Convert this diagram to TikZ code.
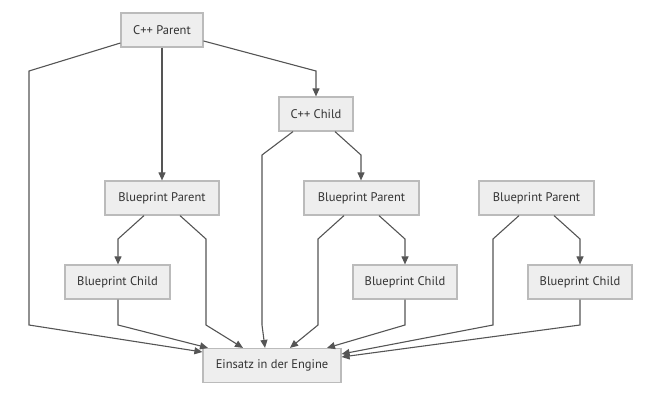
\documentclass[tikz,border=0pt]{standalone}
\usepackage{fontspec}
\setmainfont{PT Sans}
\usetikzlibrary{arrows.meta}
\definecolor{boxfill}{HTML}{EEEEEE}
\definecolor{boxline}{HTML}{BBBBBB}
\definecolor{edge}{HTML}{555555}
\definecolor{txt}{HTML}{333333}
\begin{document}
\begin{tikzpicture}[x=1pt,y=-1pt,
  box/.style={draw=boxline,fill=boxfill,line width=1.2pt,text=txt,inner sep=0pt,
    minimum height=34pt,font=\fontsize{12.5}{14}\selectfont},
  link/.style={draw=edge,line width=1.1pt,-{Triangle[length=8pt,width=7pt]},color=edge}]
\useasboundingbox (0,0) rectangle (656,402);
\node[box,minimum width=82pt] (cp) at (162,30) {C++ Parent};
\node[box,minimum width=74pt] (cc) at (316,114) {C++ Child};
\node[box,minimum width=114pt] (bp1) at (162,198) {Blueprint Parent};
\node[box,minimum width=115pt] (bp2) at (361.5,198) {Blueprint Parent};
\node[box,minimum width=115pt] (bp3) at (536.5,198) {Blueprint Parent};
\node[box,minimum width=105pt] (bc1) at (117.5,282) {Blueprint Child};
\node[box,minimum width=104pt] (bc2) at (405,282) {Blueprint Child};
\node[box,minimum width=104pt] (bc3) at (580,282) {Blueprint Child};
\node[box,minimum width=138pt] (en) at (272,365.5) {Einsatz in der Engine};
% C++ Parent
\draw[link] (cp.west|-0,43) -- (29,71) -- (29,325) -- (en.west|-0,352);
\draw[link] (cp.south) -- (bp1.north);
\draw[link] (cp.east|-0,41) -- (316,71) -- (cc.north);
% C++ Child
\draw[link] (293,0|-cc.south) -- (262,155) -- (262,325) -- (265,0|-en.north);
\draw[link] (335,0|-cc.south) -- (361,155) -- (361,0|-bp2.north);
% BP Parent 1
\draw[link] (144,0|-bp1.south) -- (118,239) -- (118,0|-bc1.north);
\draw[link] (180,0|-bp1.south) -- (206,239) -- (206,325) -- (243,0|-en.north);
% BP Child 1
\draw[link] (118,0|-bc1.south) -- (118,325) -- (208,0|-en.north);
% BP Parent 2
\draw[link] (344,0|-bp2.south) -- (318,239) -- (318,325) -- (290,0|-en.north);
\draw[link] (379,0|-bp2.south) -- (405,239) -- (405,0|-bc2.north);
% BP Child 2
\draw[link] (405,0|-bc2.south) -- (405,325) -- (327,0|-en.north);
% BP Parent 3
\draw[link] (519,0|-bp3.south) -- (493,239) -- (493,325) -- (en.east|-0,354);
\draw[link] (554,0|-bp3.south) -- (580,239) -- (580,0|-bc3.north);
% BP Child 3
\draw[link] (580,0|-bc3.south) -- (580,325) -- (en.east|-0,357);
\end{tikzpicture}
\end{document}
